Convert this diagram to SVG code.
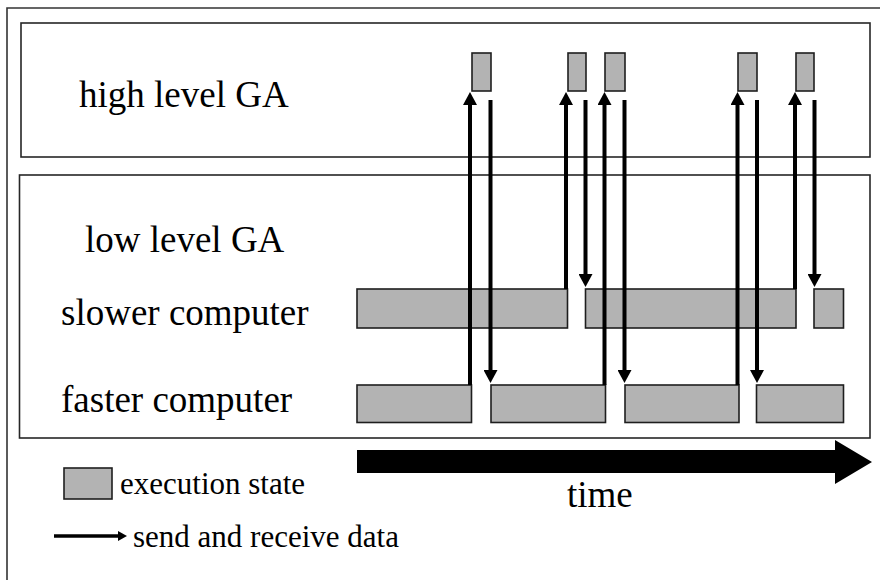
<svg xmlns="http://www.w3.org/2000/svg" width="880" height="580" viewBox="0 0 880 580">
<style>
.frame{fill:none;stroke:#262626;stroke-width:1.6}
.bar{fill:#b3b3b3;stroke:#1e1e1e;stroke-width:1.6}
.msg{stroke:#000;stroke-width:4;fill:none;marker-end:url(#ah)}
</style>
<defs>
<marker id="ah" viewBox="0 0 13 14" refX="1" refY="7" markerWidth="13" markerHeight="14" markerUnits="userSpaceOnUse" orient="auto">
<path d="M0,0 L13,7 L0,14 z" fill="#000"/>
</marker>
<marker id="ahs" viewBox="0 0 9 10" refX="1" refY="5" markerWidth="9" markerHeight="10" markerUnits="userSpaceOnUse" orient="auto">
<path d="M0,0 L9,5 L0,10 z" fill="#000"/>
</marker>
</defs>
<rect width="880" height="580" fill="#fff"/>
<path d="M7,580 V8 H880" fill="none" stroke="#333" stroke-width="1.6"/>

<g id="high-level">
<rect class="frame" x="21" y="23" width="849" height="134"/>
<text font-family="Liberation Serif" font-size="37" x="79" y="107">high level GA</text>
<rect class="bar" x="472" y="53" width="19" height="38"/>
<rect class="bar" x="568" y="53" width="18" height="38"/>
<rect class="bar" x="605" y="53" width="20" height="38"/>
<rect class="bar" x="738" y="53" width="19" height="38"/>
<rect class="bar" x="796" y="53" width="18" height="38"/>
</g>

<g id="low-level">
<rect class="frame" x="19.5" y="175" width="850.5" height="263"/>
<text font-family="Liberation Serif" font-size="37" x="85" y="252">low level GA</text>
</g>

<g id="slower-computer">
<text font-family="Liberation Serif" font-size="37" x="61" y="325">slower computer</text>
<rect class="bar" x="357" y="289" width="210.5" height="39"/>
<rect class="bar" x="585.5" y="289" width="210.5" height="39"/>
<rect class="bar" x="814" y="289" width="29.5" height="39"/>
</g>

<g id="faster-computer">
<text font-family="Liberation Serif" font-size="37" x="61" y="412">faster computer</text>
<rect class="bar" x="357" y="385" width="114.5" height="37.5"/>
<rect class="bar" x="491" y="385" width="114.5" height="37.5"/>
<rect class="bar" x="625" y="385" width="114" height="37.5"/>
<rect class="bar" x="756.5" y="385" width="87" height="37.5"/>
</g>

<g id="connectors">
<line class="msg" x1="470" y1="385" x2="470" y2="104"/>
<line class="msg" x1="490.5" y1="100" x2="490.5" y2="371"/>
<line class="msg" x1="566" y1="289" x2="566" y2="104"/>
<line class="msg" x1="585.5" y1="100" x2="585.5" y2="275"/>
<line class="msg" x1="604.5" y1="385" x2="604.5" y2="104"/>
<line class="msg" x1="624.5" y1="100" x2="624.5" y2="371"/>
<line class="msg" x1="737.5" y1="385" x2="737.5" y2="104"/>
<line class="msg" x1="757" y1="100" x2="757" y2="371"/>
<line class="msg" x1="795" y1="289" x2="795" y2="104"/>
<line class="msg" x1="814.5" y1="100" x2="814.5" y2="275"/>
</g>

<g id="time-axis">
<polygon points="357,450 835,450 835,440 872,462 835,484 835,473 357,473" fill="#000"/>
<text font-family="Liberation Serif" font-size="37" x="567" y="507">time</text>
</g>

<g id="legend">
<rect class="bar" x="64" y="468" width="48" height="31"/>
<text font-family="Liberation Serif" font-size="31" x="120" y="494">execution state</text>
<line x1="54" y1="536" x2="119" y2="536" stroke="#000" stroke-width="3.5" marker-end="url(#ahs)"/>
<text font-family="Liberation Serif" font-size="31" x="133" y="547">send and receive data</text>
</g>
</svg>
